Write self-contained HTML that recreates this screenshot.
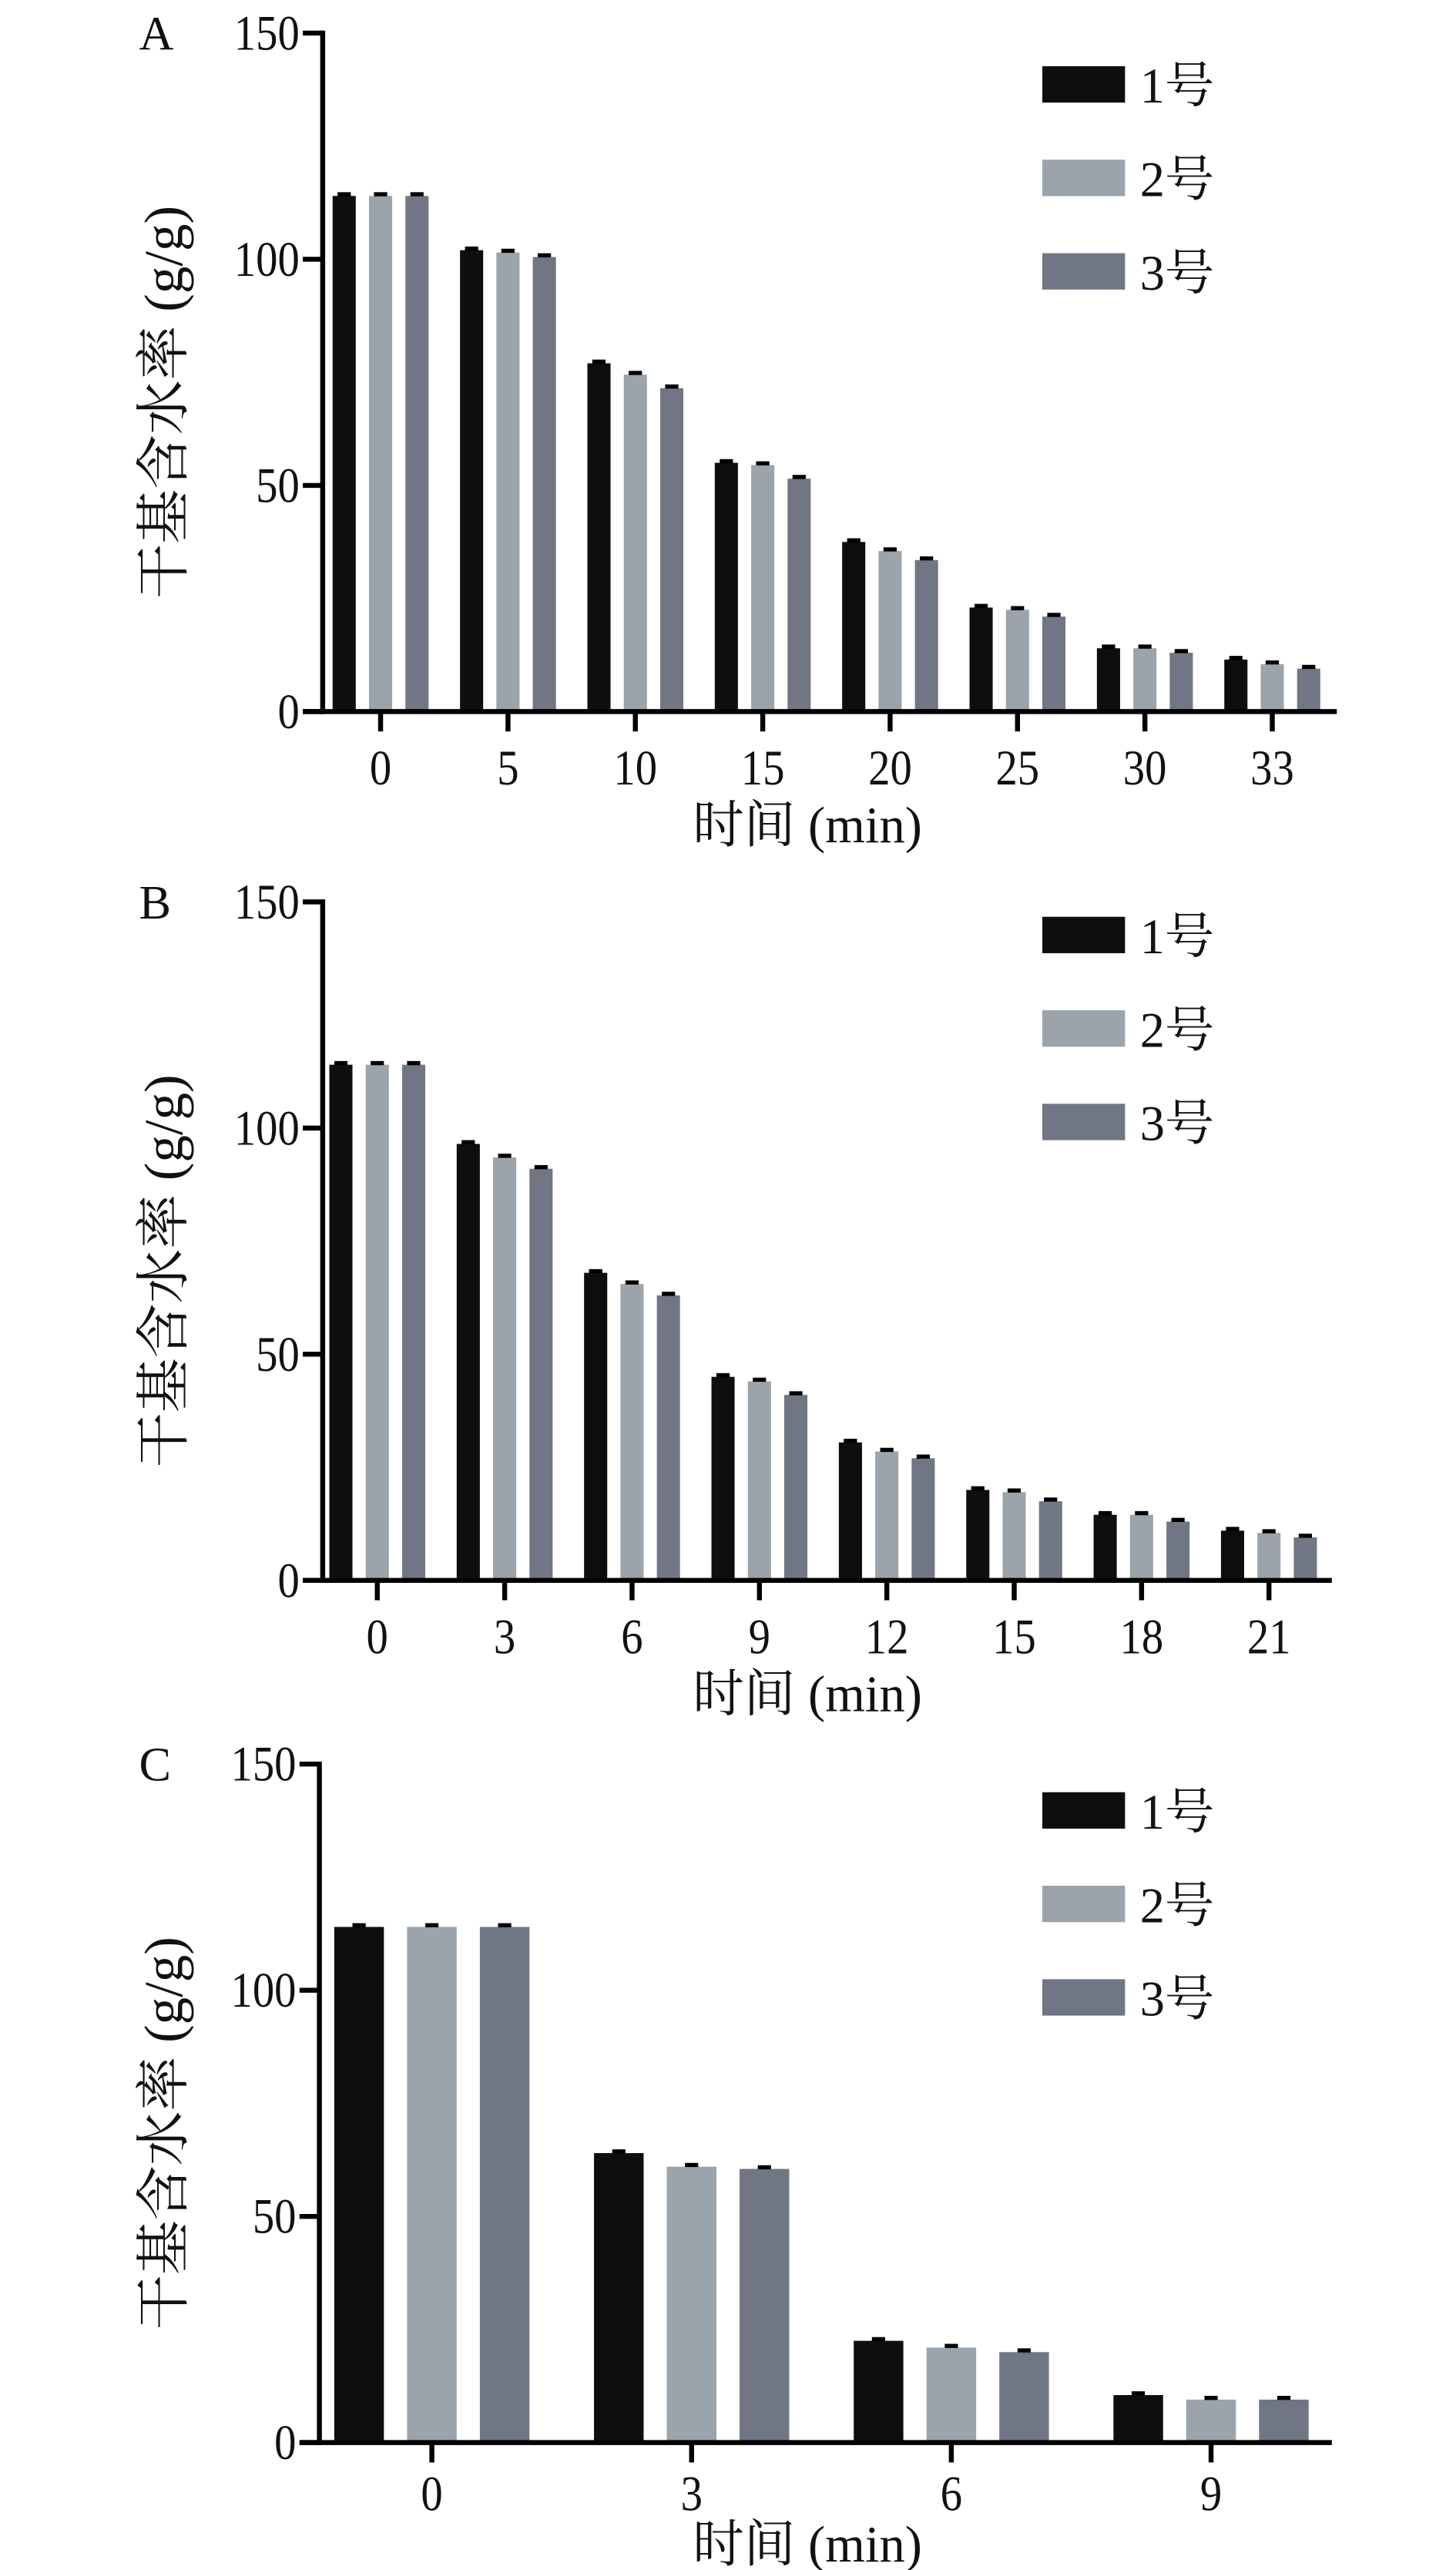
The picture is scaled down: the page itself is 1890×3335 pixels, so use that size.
<!DOCTYPE html>
<html><head><meta charset="utf-8">
<style>
html,body{margin:0;padding:0;background:#fff;}
svg{display:block;}
text{font-family:"Liberation Serif","Noto Serif CJK SC",serif;fill:#111;}
</style></head>
<body>
<svg id="fig" width="1890" height="3335" viewBox="0 0 880 1553" xmlns="http://www.w3.org/2000/svg"></svg>
<script>
// Panel A data
const catsA = ["0","5","10","15","20","25","30","33"];
const a1 = [114, 102, 77, 55, 37.5, 23, 14, 11.5];
const a2 = [114, 101.5, 74.5, 54.5, 35.5, 22.5, 14, 10.5];
const a3 = [114, 100.5, 71.5, 51.5, 33.5, 21, 13, 9.5];
// Panel B data
const catsB = ["0","3","6","9","12","15","18","21"];
const b1 = [114, 96.5, 68, 45, 30.5, 20, 14.5, 11];
const b2 = [114, 93.5, 65.5, 44, 28.5, 19.5, 14.5, 10.5];
const b3 = [114, 91, 63, 41, 27, 17.5, 13, 9.5];
// Panel C data
const catsC = ["0","3","6","9"];
const c1 = [114, 64, 22.5, 10.5];
const c2 = [114, 61, 21, 9.5];
const c3 = [114, 60.5, 20, 9.5];
const yTicks = [0, 50, 100, 150];
const seriesNames = ["1号","2号","3号"];
const colors = ["#0d0f0e","#9aa4aa","#717684"];

const svg = document.getElementById('fig');
const NS = "http://www.w3.org/2000/svg";
function mk(tag, attrs, parent){
  const e = document.createElementNS(NS, tag);
  for (const k in attrs) e.setAttribute(k, attrs[k]);
  (parent||svg).appendChild(e);
  return e;
}

function panel(opt){
  const g = mk('g', {});
  
  
  const ax = opt.axX, y0 = opt.y0, y150 = opt.y150;
  const yScale = v => y0 - (v/150)*(y0-y150);
  const xScale = i => opt.first + i*opt.step;
  const series = [opt.s1, opt.s2, opt.s3];
  series.forEach((s, si) => {
    s.forEach((v, i) => {
      const cx = xScale(i) + (si-1)*opt.off;
      const r = mk('rect', {x: cx-opt.bw/2, y: yScale(v), width: opt.bw, height: y0-yScale(v), fill: colors[si]}, g);
      
      
      const e = mk('line', {x1: cx-4, x2: cx+4, y1: yScale(v)-1, y2: yScale(v)-1, stroke: '#000', 'stroke-width': 2.5}, g);
      
      
    });
  });
  const ya = mk('line', {x1: ax, x2: ax, y1: y150-1.5, y2: y0+1.5, stroke: '#000', 'stroke-width': 3}, g);
  
  
  yTicks.forEach(t => {
    mk('line', {x1: ax-12, x2: ax, y1: yScale(t), y2: yScale(t), stroke: '#000', 'stroke-width': 3}, g);
    const tl = mk('text', {x: ax-14, y: yScale(t)+10, 'text-anchor': 'end', 'font-size': 30, transform: `translate(${ax-14},0) scale(0.88,1) translate(${-(ax-14)},0)`}, g);
    tl.textContent = t;
    
    
  });
  const xa = mk('line', {x1: ax-12, x2: opt.xEnd, y1: y0, y2: y0, stroke: '#000', 'stroke-width': 3}, g);
  
  
  opt.cats.forEach((c, i) => {
    mk('line', {x1: xScale(i), x2: xScale(i), y1: y0, y2: y0+12, stroke: '#000', 'stroke-width': 3}, g);
    const tl = mk('text', {x: xScale(i), y: y0+opt.tickOff, 'text-anchor': 'middle', 'font-size': 30, transform: `translate(${xScale(i)},0) scale(0.88,1) translate(${-xScale(i)},0)`}, g);
    tl.textContent = c;
    
    
  });
  const xt = mk('text', {x: 488, y: y0+opt.titleOff, 'text-anchor': 'middle', 'font-size': 31}, g);
  xt.textContent = '时间 (min)';
  
  
  const ymid = (y0+y150)/2 + 18;
  const yt = mk('text', {x: 0, y: 0, 'text-anchor': 'middle', 'font-size': 33, transform: `translate(110,${ymid}) rotate(-90)`}, g);
  yt.textContent = '干基含水率 (g/g)';
  
  
  const pl = mk('text', {x: 84, y: y150+10, 'font-size': 29}, g);
  pl.textContent = opt.label;
  
  
  seriesNames.forEach((n, si) => {
    const ly = opt.legY + si*56.5;
    const sw = mk('rect', {x: 630, y: ly-11, width: 50, height: 22, fill: colors[si]}, g);
    
    
    const lt = mk('text', {x: 689, y: ly+11, 'font-size': 30}, g);
    lt.textContent = n;
    
    
  });
}

panel({label:'A', cats:catsA, s1:a1, s2:a2, s3:a3, axX:195, y0:430, y150:20, first:230, step:77, off:22, bw:14, xEnd:808, legY:51, tickOff:44, titleOff:79});
panel({label:'B', cats:catsB, s1:b1, s2:b2, s3:b3, axX:195, y0:955, y150:545, first:228, step:77, off:22, bw:14, xEnd:805, legY:565, tickOff:44, titleOff:79});
panel({label:'C', cats:catsC, s1:c1, s2:c2, s3:c3, axX:193, y0:1476, y150:1066, first:261, step:157, off:44, bw:30, xEnd:805, legY:1094, tickOff:41, titleOff:72});
</script>
</body></html>
